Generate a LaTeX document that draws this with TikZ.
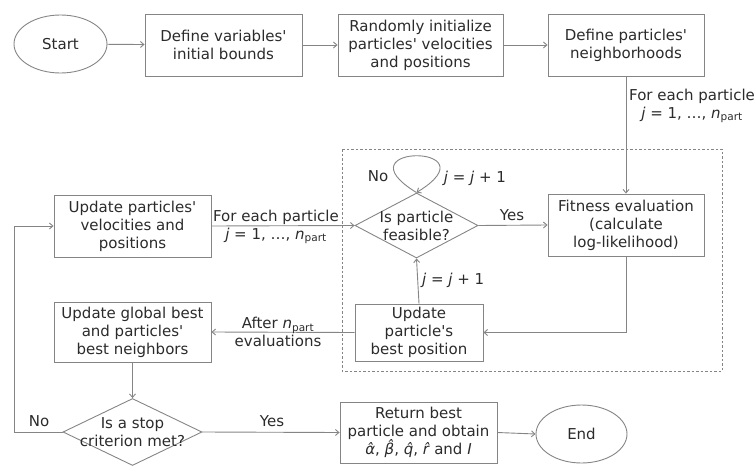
\documentclass[tikz,border=0pt]{standalone}
\usepackage{fontspec}
\setmainfont{DejaVu Sans}
\usetikzlibrary{shapes.geometric,arrows.meta}
\definecolor{ln}{HTML}{858585}
\definecolor{tx}{HTML}{2b2b2b}
\tikzset{
  x=1pt,y=-1pt,
  every node/.style={text=tx,font=\fontsize{15}{18}\selectfont},
  boxn/.style={draw=ln,line width=0.9pt,rectangle,align=center,inner sep=0pt},
  ell/.style={draw=ln,line width=0.9pt,ellipse,inner sep=0pt},
  dia/.style={draw=ln,line width=0.9pt,diamond,inner sep=0pt},
  txt/.style={align=center,inner sep=0pt},
  conn/.style={draw=ln,line width=0.9pt,-{Straight Barb[length=3.5pt,width=6pt]}},
  frame/.style={draw=ln,line width=1pt,dash pattern=on 2.5pt off 2pt},
}
\newcommand{\jv}{\textit{j}}
\newcommand{\npart}{\textit{n}\textsubscript{part}}
\newcommand{\ap}{\textquotesingle}
\begin{document}
\begin{tikzpicture}
\useasboundingbox (0,0) rectangle (756,466);
% dashed frame
\draw[frame] (342,149) rectangle (722,371);
% nodes
\node[ell,minimum width=93pt,minimum height=58pt] (start) at (60.5,44) {Start};
\node[boxn,minimum width=157pt,minimum height=62pt] (b1) at (223.5,45) {Define variables\ap\\initial bounds};
\node[boxn,minimum width=165pt,minimum height=62pt] (b2) at (420.5,45) {Randomly initialize\\particles\ap{} velocities\\and positions};
\node[boxn,minimum width=156pt,minimum height=62pt] (b3) at (626,45) {Define particles\ap\\neighborhoods};
\node[boxn,minimum width=156pt,minimum height=62pt] (fit) at (626,225) {Fitness evaluation\\(calculate\\log-likelihood)};
\node[boxn,minimum width=157pt,minimum height=62pt] (upv) at (132.5,226) {Update particles\ap\\velocities and\\positions};
\node[dia,minimum width=123pt,minimum height=65pt] (d1) at (416.5,225.5) {};
\node[txt] at (d1) {Is particle\\feasible?};
\node[boxn,minimum width=128pt,minimum height=57pt] (ubp) at (419,332.5) {Update\\particle\ap s\\best position};
\node[boxn,minimum width=157pt,minimum height=60pt] (ugb) at (132.5,332) {Update global best\\and particles\ap\\best neighbors};
\node[dia,minimum width=139pt,minimum height=67pt] (d2) at (132.5,432) {};
\node[txt] at (d2) {Is a stop\\criterion met?};
\node[boxn,minimum width=157pt,minimum height=61pt] (ret) at (418.5,432.5) {Return best\\particle and obtain\\\textit{α̂}, \textit{β̂}, \textit{q̂}, \textit{r̂} and \textit{I}};
\node[ell,minimum width=91pt,minimum height=58pt] (endn) at (581.5,434) {End};
\coordinate (c1) at (14,432);
\coordinate (c2) at (14,226);
% connectors
\draw[conn] (start) -- (b1);
\draw[conn] (b1) -- (b2);
\draw[conn] (b2) -- (b3);
\draw[conn] (b3) -- (fit);
\node[txt,anchor=west] (l1) at (629,106) {For each particle\\\jv{} = 1, …, \npart};
\draw[conn] (upv.east) -- (d1.west);
\node[txt] (l2) at (276,227) {For each particle\\\jv{} = 1, …, \npart};
\draw[conn] (d1.east) -- (fit.west);
\node[txt] (l3) at (512,215) {Yes};
\draw[conn] (d1.north) .. controls +(-80,-49) and +(80,-49) .. (d1.north);
\node[txt] (l4) at (378,176) {No};
\node[txt] (l5) at (475,178) {\jv{} = \jv{} + 1};
\draw[conn] (fit.south) |- (ubp.east);
\draw[conn] (ubp.north) -- (d1.south);
\node[txt,anchor=west] (l6) at (422,280) {\jv{} = \jv{} + 1};
\draw[conn] (ubp.west) -- (ugb.east);
\node[txt] (l7) at (278,332) {After \npart\\evaluations};
\draw[conn] (ugb.south) -- (d2.north);
\draw[conn] (d2.west) -- (c1) -- (c2) -- (upv.west);
\node[txt] (l8) at (39,421) {No};
\draw[conn] (d2.east) -- (ret.west);
\node[txt] (l9) at (272,421) {Yes};
\draw[conn] (ret.east) -- (endn.west);
\end{tikzpicture}
\end{document}
